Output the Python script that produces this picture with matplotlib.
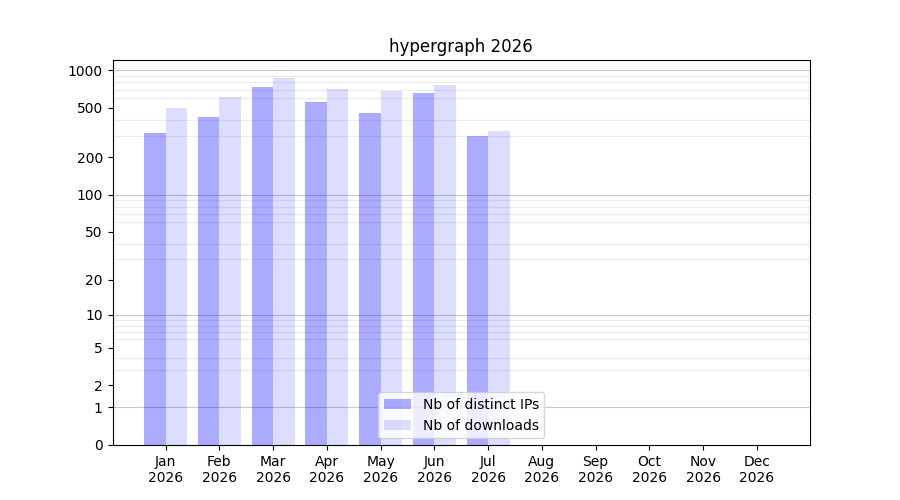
import numpy as np
import matplotlib
matplotlib.use("Agg")
import matplotlib.pyplot as plt

months = ["Jan", "Feb", "Mar", "Apr", "May", "Jun", "Jul", "Aug", "Sep", "Oct", "Nov", "Dec"]
year = "2026"
distinct_ips = [312, 421, 731, 555, 453, 655, 296, 0, 0, 0, 0, 0]
downloads = [496, 608, 863, 705, 679, 759, 325, 0, 0, 0, 0, 0]
ytick_values = [0, 1, 2, 5, 10, 20, 50, 100, 200, 500, 1000]
decades = [1, 10, 100, 1000]


def fwd(x):
    return np.log10(np.clip(x, 0, None) + 1)


def inv(y):
    return 10 ** y - 1


fig, ax = plt.subplots(figsize=(9, 5), dpi=100)
ax.set_yscale("function", functions=(fwd, inv))
ax.set_axisbelow(True)

x = np.arange(len(months))
w = 0.4
ax.bar(x - w / 2, distinct_ips, width=w, color="blue", alpha=0.33, label="Nb of distinct IPs", zorder=2)
ax.bar(x + w / 2, downloads, width=w, color="blue", alpha=0.133, label="Nb of downloads", zorder=2)

ax.autoscale_view()
ylim = ax.get_ylim()

minors = [m * d for d in [1, 10, 100, 1000] for m in range(2, 10) if m * d < ylim[1]]
ax.set_yticks(ytick_values)
ax.set_yticklabels([str(v) for v in ytick_values])
ax.set_yticks(minors, minor=True)
ax.tick_params(axis="y", which="minor", length=0)
ax.yaxis.grid(True, which="minor", color="#ebebeb", lw=0.8)
for d in decades:
    ax.axhline(d, color="#c8c8c8", lw=0.8, zorder=1)
ax.set_ylim(ylim)

ax.set_xticks(x)
ax.set_xticklabels([f"{m}\n{year}" for m in months])
ax.set_title("hypergraph 2026")
ax.legend(loc="lower center")

fig.savefig("out.png")
